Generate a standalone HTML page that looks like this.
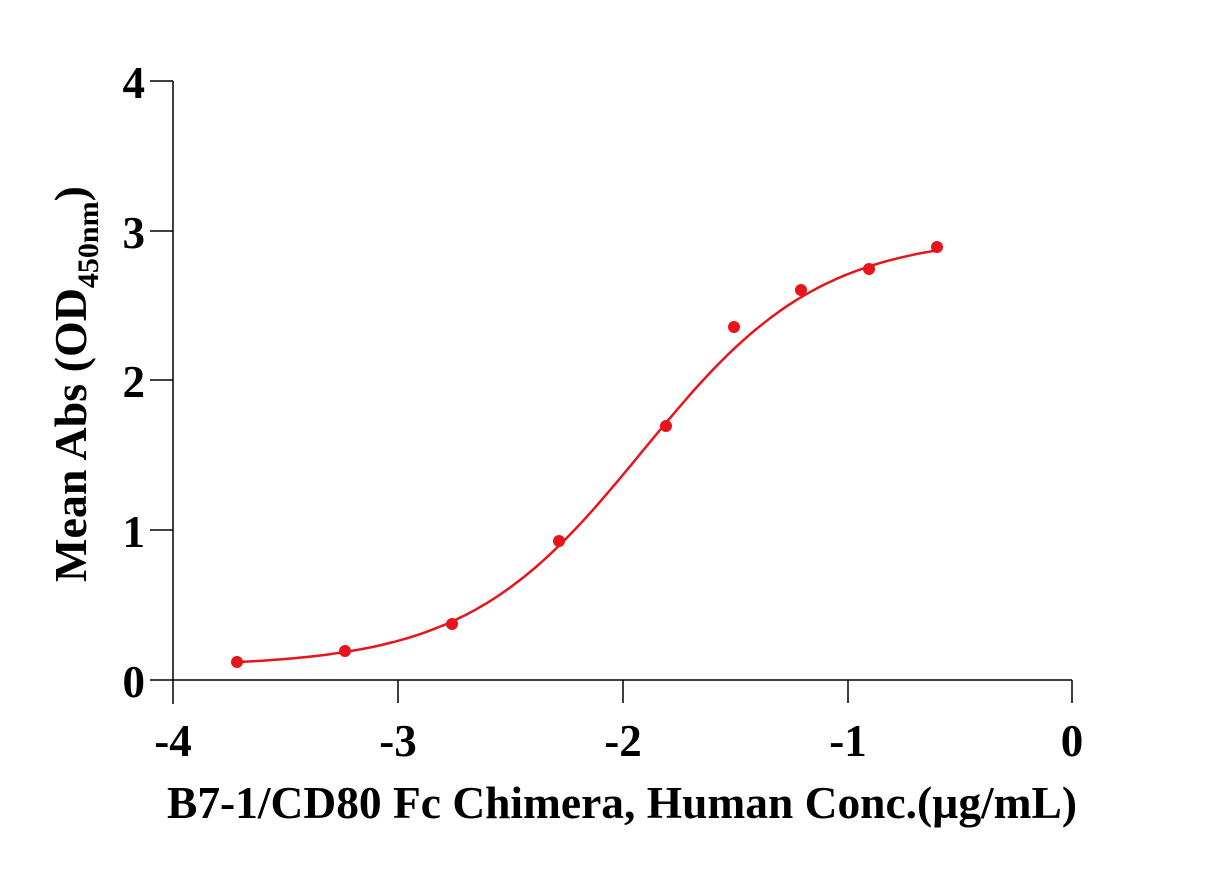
<!DOCTYPE html>
<html><head><meta charset="utf-8"><style>body{margin:0;background:#fff}</style></head>
<body>
<svg width="1211" height="868" xmlns="http://www.w3.org/2000/svg" font-family="Liberation Serif, serif" font-weight="bold">
<g stroke="#000" stroke-width="1.5" fill="none">
<line x1="173" y1="81" x2="173" y2="704"/>
<line x1="150" y1="680" x2="1072" y2="680"/>
<line x1="150" y1="81" x2="173" y2="81"/>
<line x1="150" y1="231" x2="173" y2="231"/>
<line x1="150" y1="380" x2="173" y2="380"/>
<line x1="150" y1="530" x2="173" y2="530"/>
<line x1="398" y1="680" x2="398" y2="703"/>
<line x1="623" y1="680" x2="623" y2="703"/>
<line x1="848" y1="680" x2="848" y2="703"/>
<line x1="1072" y1="680" x2="1072" y2="703"/>
</g>
<g font-size="45" text-anchor="end">
<text x="145" y="98">4</text><text x="145" y="248">3</text><text x="145" y="397">2</text><text x="145" y="547">1</text><text x="145" y="697">0</text>
</g>
<g font-size="45" text-anchor="middle">
<text x="173" y="756">-4</text><text x="398" y="756">-3</text><text x="623" y="756">-2</text><text x="848" y="756">-1</text><text x="1072" y="756">0</text>
</g>
<text x="622" y="818" font-size="45" text-anchor="middle" textLength="910" lengthAdjust="spacingAndGlyphs">B7-1/CD80 Fc Chimera, Human Conc.(µg/mL)</text>
<text transform="translate(86,384) rotate(-90)" font-size="46" text-anchor="middle">Mean Abs (OD<tspan font-size="30" dy="12">450nm</tspan><tspan dy="-12">)</tspan></text>
<path id="c" fill="none" stroke="#e8141c" stroke-width="2.5"/>
<g id="pts" fill="#e8141c"></g>
</svg>
<script>
function X(v){return 173+(v+4)*224.75}function Y(v){return 680-v*149.75}
function f(x){return 0.09+2.88/(1+Math.pow(10,1.1*(-1.91-x)))}
var d="";for(var x=-3.715;x<=-0.6;x+=0.02){d+=(d?"L":"M")+X(x).toFixed(1)+","+Y(f(x)).toFixed(1)}
d+="L"+X(-0.6)+","+Y(f(-0.6)).toFixed(1);
document.getElementById("c").setAttribute("d",d);
var p=[[237,662],[345,651],[452,624],[559,541],[666,426],[734,327],[801,290],[869,269],[937,247]];
var g=document.getElementById("pts");
p.forEach(function(q){var c=document.createElementNS("http://www.w3.org/2000/svg","circle");c.setAttribute("cx",q[0]);c.setAttribute("cy",q[1]);c.setAttribute("r",6);g.appendChild(c)});
</script>
</body></html>
